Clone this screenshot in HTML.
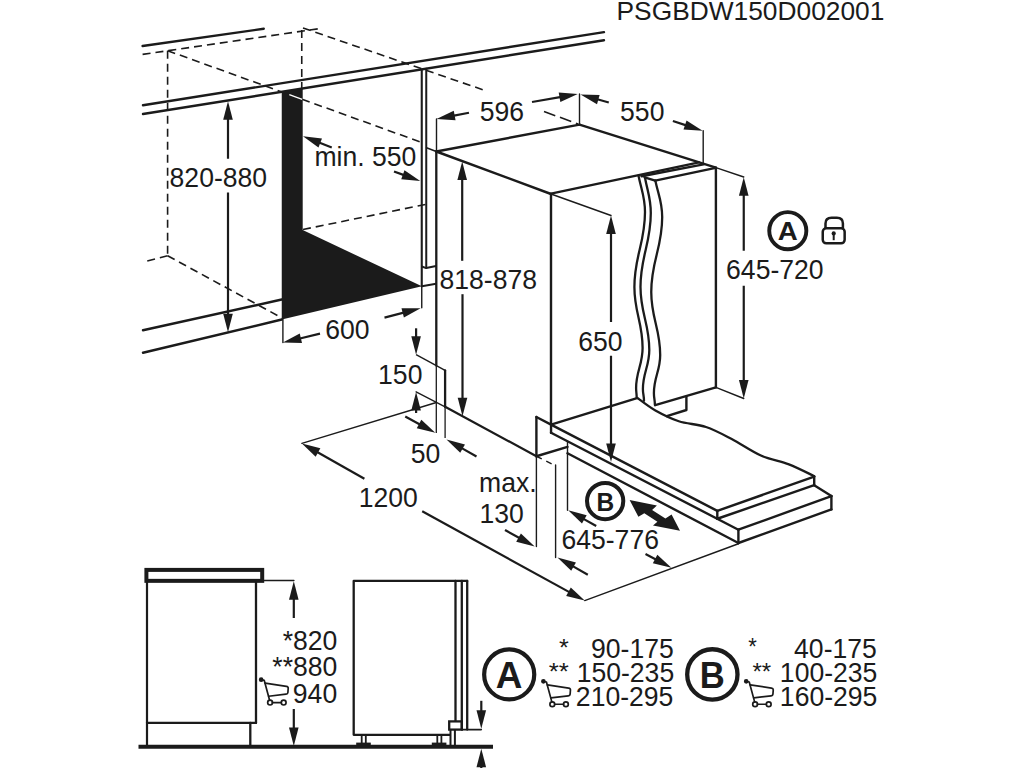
<!DOCTYPE html>
<html><head><meta charset="utf-8"><style>
html,body{margin:0;padding:0;background:#fff;width:1024px;height:768px;overflow:hidden}
svg{display:block}
text{font-family:"Liberation Sans",sans-serif;fill:#1b1b1b;stroke:none}
</style></head><body>
<svg width="1024" height="768" viewBox="0 0 1024 768" stroke="#1b1b1b">
<line x1="142.6" y1="46" x2="263.75" y2="28.75" stroke-width="2.4" stroke-linecap="round"/>
<line x1="142.6" y1="54.4" x2="321.75" y2="28.25" stroke-width="1.6" stroke-linecap="butt" stroke-dasharray="8 5"/>
<line x1="143" y1="105.2" x2="604" y2="32.1" stroke-width="2.4" stroke-linecap="round"/>
<line x1="143" y1="114" x2="604" y2="40.2" stroke-width="2.4" stroke-linecap="round"/>
<line x1="167.6" y1="50.7" x2="167.6" y2="255.75" stroke-width="1.6" stroke-linecap="butt" stroke-dasharray="8 5"/>
<line x1="301.75" y1="30" x2="301.75" y2="89" stroke-width="1.6" stroke-linecap="butt" stroke-dasharray="8 5"/>
<line x1="167.6" y1="50.7" x2="421.5" y2="142.4" stroke-width="1.6" stroke-linecap="butt" stroke-dasharray="8 5"/>
<line x1="303" y1="28" x2="486.5" y2="91" stroke-width="1.6" stroke-linecap="butt" stroke-dasharray="8 5"/>
<line x1="544" y1="111.5" x2="578" y2="124" stroke-width="1.6" stroke-linecap="butt" stroke-dasharray="12 5"/>
<line x1="167.6" y1="255.75" x2="143" y2="262" stroke-width="1.6" stroke-linecap="butt" stroke-dasharray="8 5"/>
<line x1="167.6" y1="255.75" x2="282" y2="318" stroke-width="1.6" stroke-linecap="butt" stroke-dasharray="8 5"/>
<line x1="303" y1="229.5" x2="430" y2="203.5" stroke-width="1.6" stroke-linecap="butt" stroke-dasharray="8 5"/>
<line x1="143" y1="330.25" x2="281.75" y2="299.5" stroke-width="2.4" stroke-linecap="round"/>
<line x1="143" y1="352.75" x2="281.75" y2="319.5" stroke-width="2.4" stroke-linecap="round"/>
<polygon points="281.75,91.80 302.70,88.40 302.70,230.00 421.90,286.35 281.75,319.50" fill="#1b1b1b" stroke="none"/>
<line x1="289.3" y1="94.6" x2="302.2" y2="99.3" stroke="#fff" stroke-width="1.4"/>
<line x1="421.75" y1="69.5" x2="421.75" y2="286.3" stroke-width="2.1" stroke-linecap="round"/>
<line x1="421.75" y1="286.3" x2="421.75" y2="307.7" stroke-width="1.4" stroke-linecap="round"/>
<line x1="426.25" y1="68.8" x2="426.25" y2="268.1" stroke-width="2.0" stroke-linecap="round"/>
<polyline points="421.75,266.5 426.25,268.1 436.1,266" stroke-width="2.0" fill="none" stroke-linejoin="round"/>
<line x1="421.9" y1="286.35" x2="436.1" y2="283.75" stroke-width="2.0" stroke-linecap="round"/>
<line x1="426.5" y1="147.75" x2="436.3" y2="151.5" stroke-width="1.4" stroke-linecap="round"/>
<line x1="228" y1="158.75" x2="228.0" y2="117.7" stroke-width="2.2" stroke-linecap="butt"/>
<polygon points="228.00,101.20 232.80,119.70 223.20,119.70" fill="#1b1b1b" stroke="none"/>
<line x1="228" y1="192.5" x2="228.0" y2="315.8" stroke-width="2.2" stroke-linecap="butt"/>
<polygon points="228.00,332.30 223.20,313.80 232.80,313.80" fill="#1b1b1b" stroke="none"/>
<text transform="translate(169.59,186.69) scale(1,1.035)" font-size="26.60" text-anchor="start" font-weight="normal">820-880</text>
<line x1="331.75" y1="147.5" x2="318.36550586514494" y2="142.26258925157848" stroke-width="2.2" stroke-linecap="butt"/>
<polygon points="303.00,136.25 321.98,138.52 318.48,147.46" fill="#1b1b1b" stroke="none"/>
<line x1="394" y1="171.5" x2="404.7347981226976" y2="175.38497455869054" stroke-width="2.2" stroke-linecap="butt"/>
<polygon points="420.25,181.00 401.22,179.22 404.49,170.19" fill="#1b1b1b" stroke="none"/>
<text transform="translate(314.43,165.92) scale(1,1.035)" font-size="26.60" text-anchor="start" font-weight="normal">min. 550</text>
<line x1="282.9" y1="319.5" x2="282.9" y2="342.6" stroke-width="1.4" stroke-linecap="round"/>
<line x1="320" y1="333.6" x2="298.93492678437906" y2="338.7101255779135" stroke-width="2.2" stroke-linecap="butt"/>
<polygon points="282.90,342.60 299.75,333.57 302.01,342.90" fill="#1b1b1b" stroke="none"/>
<text transform="translate(325.19,338.63) scale(1,1.035)" font-size="26.60" text-anchor="start" font-weight="normal">600</text>
<line x1="384.5" y1="317.6" x2="404.63243777088223" y2="312.35775858597526" stroke-width="2.2" stroke-linecap="butt"/>
<polygon points="420.60,308.20 403.91,317.51 401.49,308.22" fill="#1b1b1b" stroke="none"/>
<line x1="436.3" y1="151.5" x2="579.5" y2="124.6" stroke-width="2.4" stroke-linecap="round"/>
<line x1="436.3" y1="151.5" x2="551" y2="194" stroke-width="2.4" stroke-linecap="round"/>
<line x1="579.5" y1="124.6" x2="715.9" y2="167.6" stroke-width="2.4" stroke-linecap="round"/>
<line x1="551" y1="193.6" x2="699" y2="162.4" stroke-width="2.4" stroke-linecap="round"/>
<line x1="641.5" y1="176.3" x2="703.5" y2="164.4" stroke-width="2.4" stroke-linecap="round"/>
<line x1="655.2" y1="180.6" x2="715.6" y2="167.8" stroke-width="2.4" stroke-linecap="round"/>
<line x1="644.6" y1="177.3" x2="655.2" y2="180.6" stroke-width="2.4" stroke-linecap="round"/>
<line x1="436.3" y1="151.5" x2="436.3" y2="365.5" stroke-width="2.3" stroke-linecap="round"/>
<line x1="436.3" y1="365.5" x2="436.3" y2="433" stroke-width="1.3" stroke-linecap="butt"/>
<line x1="551" y1="194" x2="551" y2="424.6" stroke-width="2.4" stroke-linecap="round"/>
<line x1="715.9" y1="167.6" x2="715.9" y2="387.3" stroke-width="2.4" stroke-linecap="round"/>
<line x1="715.9" y1="387.3" x2="655.2" y2="405.2" stroke-width="2.4" stroke-linecap="round"/>
<path d="M638.5,175.7 C641.42,190.22 645.00,196.75 645,212 C645.00,243.50 634.40,255.50 634.4,287 C634.40,312.62 642.60,322.38 642.6,348 C642.60,364.80 636.10,371.20 636.1,388 C636.10,392.07 636.64,392.85 636.7,397.7" stroke-width="2.3" fill="none" stroke-linecap="round"/>
<path d="M645,177.7 C647.61,191.82 650.80,198.17 650.8,213 C650.80,244.08 640.50,255.92 640.5,287 C640.50,313.46 649.30,323.54 649.3,350 C649.30,366.38 642.90,372.62 642.9,389 C642.90,393.96 643.89,394.90 644,400.8" stroke-width="2.3" fill="none" stroke-linecap="round"/>
<path d="M655.3,180.6 C658.40,195.16 662.20,201.71 662.2,217 C662.20,248.50 651.25,260.50 651.25,292 C651.25,318.46 660.20,328.54 660.2,355 C660.20,370.96 653.90,377.04 653.9,393 C653.90,398.04 654.80,399.00 654.9,405" stroke-width="2.3" fill="none" stroke-linecap="round"/>
<polyline points="686.4,396.3 686.4,410 666.1,416.4" stroke-width="2.4" fill="none" stroke-linejoin="round"/>
<line x1="416.1" y1="328.3" x2="416.1" y2="338.2" stroke-width="2.2" stroke-linecap="butt"/>
<polygon points="416.10,354.70 411.30,336.20 420.90,336.20" fill="#1b1b1b" stroke="none"/>
<polyline points="416.1,354.7 445.1,370.3" stroke-width="1.4" fill="none" stroke-linejoin="round"/>
<line x1="445.1" y1="370.3" x2="445.1" y2="406.8" stroke-width="2.3" stroke-linecap="round"/>
<line x1="445.1" y1="406.8" x2="445.1" y2="438" stroke-width="1.3" stroke-linecap="butt"/>
<text transform="translate(378.08,384.45) scale(1,1.035)" font-size="26.60" text-anchor="start" font-weight="normal">150</text>
<line x1="416.1" y1="413" x2="416.1" y2="408.5" stroke-width="2.2" stroke-linecap="butt"/>
<polygon points="416.10,392.00 420.90,410.50 411.30,410.50" fill="#1b1b1b" stroke="none"/>
<line x1="416.1" y1="391.8" x2="445.1" y2="406.8" stroke-width="1.3" stroke-linecap="round"/>
<line x1="445.1" y1="406.8" x2="536.4" y2="456.25" stroke-width="2.2" stroke-linecap="round"/>
<line x1="301.9" y1="443.4" x2="436.3" y2="402.5" stroke-width="1.4" stroke-linecap="round"/>
<line x1="405.25" y1="416.5" x2="420.79631723281426" y2="424.9327777336064" stroke-width="2.2" stroke-linecap="butt"/>
<polygon points="435.30,432.80 416.75,428.20 421.33,419.76" fill="#1b1b1b" stroke="none"/>
<line x1="476.5" y1="456.5" x2="460.8553660665021" y2="447.63470743768454" stroke-width="2.2" stroke-linecap="butt"/>
<polygon points="446.50,439.50 464.96,444.44 460.23,452.80" fill="#1b1b1b" stroke="none"/>
<text transform="translate(410.77,463.17) scale(1,1.035)" font-size="26.60" text-anchor="start" font-weight="normal">50</text>
<line x1="536.4" y1="417" x2="536.4" y2="456.25" stroke-width="2.4" stroke-linecap="round"/>
<line x1="536.4" y1="417" x2="551.05" y2="424.6" stroke-width="2.4" stroke-linecap="round"/>
<line x1="536.4" y1="456.25" x2="567.5" y2="446.9" stroke-width="2.4" stroke-linecap="round"/>
<line x1="567.5" y1="441.3" x2="567.5" y2="510.3" stroke-width="1.4" stroke-linecap="round"/>
<line x1="536.4" y1="456.25" x2="555.2" y2="465.6" stroke-width="1.4" stroke-linecap="butt" stroke-dasharray="6 5"/>
<line x1="555.6" y1="465" x2="555.6" y2="557.5" stroke-width="1.4" stroke-linecap="round"/>
<line x1="536.4" y1="456.25" x2="536.4" y2="546.6" stroke-width="1.4" stroke-linecap="round"/>
<line x1="462.2" y1="260.8" x2="462.2" y2="178.0" stroke-width="2.2" stroke-linecap="butt"/>
<polygon points="462.20,161.50 467.00,180.00 457.40,180.00" fill="#1b1b1b" stroke="none"/>
<line x1="462.5" y1="294.2" x2="462.5" y2="399.8" stroke-width="2.2" stroke-linecap="butt"/>
<polygon points="462.50,416.30 457.70,397.80 467.30,397.80" fill="#1b1b1b" stroke="none"/>
<text transform="translate(439.49,289.03) scale(1,1.035)" font-size="26.60" text-anchor="start" font-weight="normal">818-878</text>
<line x1="436.5" y1="151.5" x2="436.5" y2="119" stroke-width="1.4" stroke-linecap="round"/>
<line x1="469" y1="112.75" x2="452.70310637518065" y2="115.88401800477294" stroke-width="2.2" stroke-linecap="butt"/>
<polygon points="436.50,119.00 453.76,110.79 455.57,120.22" fill="#1b1b1b" stroke="none"/>
<text transform="translate(479.64,120.89) scale(1,1.035)" font-size="26.60" text-anchor="start" font-weight="normal">596</text>
<line x1="532" y1="102" x2="561.4966204098743" y2="96.84212102122417" stroke-width="2.2" stroke-linecap="butt"/>
<polygon points="577.75,94.00 560.35,101.91 558.70,92.46" fill="#1b1b1b" stroke="none"/>
<line x1="579.5" y1="94" x2="579.5" y2="124.6" stroke-width="1.4" stroke-linecap="round"/>
<line x1="608.8" y1="102.5" x2="596.3924008010181" y2="99.03639456989552" stroke-width="2.2" stroke-linecap="butt"/>
<polygon points="580.50,94.60 599.61,94.95 597.03,104.20" fill="#1b1b1b" stroke="none"/>
<text transform="translate(620.09,120.63) scale(1,1.035)" font-size="26.60" text-anchor="start" font-weight="normal">550</text>
<line x1="672.9" y1="121" x2="686.9309702942955" y2="125.62974777387528" stroke-width="2.2" stroke-linecap="butt"/>
<polygon points="702.60,130.80 683.53,129.56 686.54,120.44" fill="#1b1b1b" stroke="none"/>
<line x1="703.2" y1="130.8" x2="703.2" y2="163" stroke-width="1.4" stroke-linecap="round"/>
<line x1="551" y1="194" x2="611" y2="215.5" stroke-width="1.4" stroke-linecap="round"/>
<line x1="611" y1="322" x2="611.0" y2="232.0" stroke-width="2.2" stroke-linecap="butt"/>
<polygon points="611.00,215.50 615.80,234.00 606.20,234.00" fill="#1b1b1b" stroke="none"/>
<line x1="611" y1="355.75" x2="611.0" y2="445.5" stroke-width="2.2" stroke-linecap="butt"/>
<polygon points="611.00,462.00 606.20,443.50 615.80,443.50" fill="#1b1b1b" stroke="none"/>
<text transform="translate(578.24,350.63) scale(1,1.035)" font-size="26.60" text-anchor="start" font-weight="normal">650</text>
<line x1="715.9" y1="167.6" x2="743.75" y2="177" stroke-width="1.4" stroke-linecap="round"/>
<line x1="715.9" y1="387.3" x2="743.75" y2="398.5" stroke-width="1.4" stroke-linecap="round"/>
<line x1="743.75" y1="250.75" x2="743.75" y2="193.7" stroke-width="2.2" stroke-linecap="butt"/>
<polygon points="743.75,177.20 748.55,195.70 738.95,195.70" fill="#1b1b1b" stroke="none"/>
<line x1="743.75" y1="285.75" x2="743.75" y2="382.0" stroke-width="2.2" stroke-linecap="butt"/>
<polygon points="743.75,398.50 738.95,380.00 748.55,380.00" fill="#1b1b1b" stroke="none"/>
<text transform="translate(726.09,279.03) scale(1,1.035)" font-size="26.60" text-anchor="start" font-weight="normal">645-720</text>
<line x1="551.05" y1="424.6" x2="637" y2="398.1" stroke-width="2.4" stroke-linecap="round"/>
<path d="M637.8,398.3 C640.73,400.33 648.57,406.68 655.4,410.5 C662.23,414.32 670.37,418.50 678.8,421.25 C687.23,424.00 697.18,424.04 706,427 C714.82,429.96 722.55,434.25 731.7,439 C740.85,443.75 751.37,451.27 760.9,455.5 C770.43,459.73 780.00,460.95 788.9,464.4 C797.80,467.85 810.07,474.23 814.3,476.2" stroke-width="2.3" fill="none" stroke-linecap="round"/>
<line x1="551.05" y1="424.6" x2="717.3" y2="510.9" stroke-width="2.4" stroke-linecap="round"/>
<line x1="717.3" y1="510.9" x2="814.2" y2="476.6" stroke-width="2.4" stroke-linecap="round"/>
<line x1="717.3" y1="510.9" x2="717.3" y2="518.75" stroke-width="2.4" stroke-linecap="round"/>
<line x1="814.2" y1="476.6" x2="814.2" y2="485.2" stroke-width="2.4" stroke-linecap="round"/>
<line x1="717.3" y1="518.75" x2="814.2" y2="485.2" stroke-width="2.4" stroke-linecap="round"/>
<line x1="551.05" y1="432.8" x2="738.4" y2="529.7" stroke-width="2.4" stroke-linecap="round"/>
<line x1="551.05" y1="424.6" x2="551.05" y2="432.8" stroke-width="2.4" stroke-linecap="round"/>
<line x1="814.2" y1="485.2" x2="831.4" y2="496.1" stroke-width="2.4" stroke-linecap="round"/>
<line x1="738.4" y1="529.7" x2="831.4" y2="496.1" stroke-width="2.4" stroke-linecap="round"/>
<line x1="738.4" y1="529.7" x2="738.4" y2="543" stroke-width="2.4" stroke-linecap="round"/>
<line x1="831.4" y1="496.1" x2="831.4" y2="509.4" stroke-width="2.4" stroke-linecap="round"/>
<line x1="738.4" y1="543" x2="831.4" y2="509.4" stroke-width="2.4" stroke-linecap="round"/>
<line x1="567.5" y1="453.3" x2="738.4" y2="543" stroke-width="2.4" stroke-linecap="round"/>
<line x1="738.4" y1="543.75" x2="584.7" y2="600.6" stroke-width="1.4" stroke-linecap="round"/>
<line x1="364.4" y1="478.75" x2="316.2619323597343" y2="451.5231089426657" stroke-width="2.2" stroke-linecap="butt"/>
<polygon points="301.90,443.40 320.37,448.33 315.64,456.69" fill="#1b1b1b" stroke="none"/>
<line x1="422.2" y1="511.25" x2="570.2414983280994" y2="592.6500484653274" stroke-width="2.2" stroke-linecap="butt"/>
<polygon points="584.70,600.60 566.18,595.89 570.80,587.48" fill="#1b1b1b" stroke="none"/>
<text transform="translate(358.72,506.70) scale(1,1.035)" font-size="26.60" text-anchor="start" font-weight="normal">1200</text>
<text transform="translate(479.11,492.18) scale(1,1.035)" font-size="26.60" text-anchor="start" font-weight="normal">max.</text>
<text transform="translate(479.54,523.43) scale(1,1.035)" font-size="26.60" text-anchor="start" font-weight="normal">130</text>
<line x1="505" y1="530" x2="520.2970399697145" y2="538.5498607238136" stroke-width="2.2" stroke-linecap="butt"/>
<polygon points="534.70,546.60 516.21,541.76 520.89,533.38" fill="#1b1b1b" stroke="none"/>
<line x1="587.8" y1="574.7" x2="571.8492681191675" y2="565.6454591303525" stroke-width="2.2" stroke-linecap="butt"/>
<polygon points="557.50,557.50 575.96,562.46 571.22,570.81" fill="#1b1b1b" stroke="none"/>
<line x1="596.2" y1="526" x2="582.5919646864703" y2="518.3697801991995" stroke-width="2.2" stroke-linecap="butt"/>
<polygon points="568.20,510.30 586.68,515.16 581.99,523.53" fill="#1b1b1b" stroke="none"/>
<text transform="translate(561.40,549.01) scale(1,1.035)" font-size="26.60" text-anchor="start" font-weight="normal">645-776</text>
<line x1="645.5" y1="554" x2="656.838064910326" y2="560.0411311105212" stroke-width="2.2" stroke-linecap="butt"/>
<polygon points="671.40,567.80 652.82,563.34 657.33,554.86" fill="#1b1b1b" stroke="none"/>
<circle cx="605.15" cy="501.1" r="18.15" stroke-width="4" fill="none"/>
<text transform="translate(605.40,510.81) scale(1,1.024)" font-size="24.50" text-anchor="middle" font-weight="bold">B</text>
<polygon points="629.60,500.10 638.40,516.70 644.30,513.30 657.40,521.70 653.00,525.50 680.00,530.70 671.60,514.40 665.40,518.40 652.10,509.90 656.90,505.60" fill="#1b1b1b" stroke="none"/>
<circle cx="787.8" cy="230.65" r="18.55" stroke-width="3.9" fill="none"/>
<text transform="translate(787.81,240.18) scale(1,0.950)" font-size="27.70" text-anchor="middle" font-weight="bold">A</text>
<rect x="822.75" y="228.25" width="21.9" height="15.05" rx="3.5" stroke-width="2.5" fill="none"/>
<path d="M825.5,228.25 V223.5 Q825.5,217.75 831.5,217.75 H836.9 Q842.9,217.75 842.9,223.5 V228.25" stroke-width="2.5" fill="none"/>
<circle cx="833.7" cy="233.4" r="2.1" stroke="none" fill="#1b1b1b"/>
<line x1="833.7" y1="233.5" x2="833.7" y2="240.2" stroke-width="2.0" stroke-linecap="butt"/>
<text transform="translate(616.56,20.21) scale(1,1.000)" font-size="26.34" text-anchor="start" font-weight="normal">PSGBDW150D002001</text>
<rect x="146.4" y="569.9" width="115.8" height="10.95" stroke-width="4" fill="none"/>
<line x1="147" y1="582.6" x2="147" y2="746" stroke-width="2.2" stroke-linecap="round"/>
<line x1="256" y1="582.6" x2="256" y2="722.9" stroke-width="2.3" stroke-linecap="round"/>
<line x1="147" y1="722.9" x2="256" y2="722.9" stroke-width="2.3" stroke-linecap="round"/>
<line x1="250.3" y1="722.9" x2="250.3" y2="746" stroke-width="2.3" stroke-linecap="round"/>
<line x1="138.5" y1="746.85" x2="493" y2="746.85" stroke-width="4" stroke-linecap="butt"/>
<line x1="264" y1="580.5" x2="293.9" y2="580.5" stroke-width="1.4" stroke-linecap="round"/>
<line x1="293.8" y1="618" x2="293.8" y2="597.7" stroke-width="2.2" stroke-linecap="butt"/>
<polygon points="293.80,581.20 298.60,599.70 289.00,599.70" fill="#1b1b1b" stroke="none"/>
<line x1="293.8" y1="709" x2="293.8" y2="729.4" stroke-width="2.2" stroke-linecap="butt"/>
<polygon points="293.80,745.90 289.00,727.40 298.60,727.40" fill="#1b1b1b" stroke="none"/>
<text transform="translate(337.32,649.55) scale(1,1.035)" font-size="26.60" text-anchor="end" font-weight="normal">*820</text>
<text transform="translate(337.33,675.72) scale(1,1.035)" font-size="26.60" text-anchor="end" font-weight="normal">**880</text>
<text transform="translate(337.19,702.72) scale(1,1.035)" font-size="26.60" text-anchor="end" font-weight="normal">940</text>
<g transform="translate(256,674) scale(1.0)" fill="none" stroke-width="1.7" stroke-linecap="round" stroke-linejoin="round"><path d="M5.16,5.63 L8.2,6.3 L13.6,26.2"/><path d="M9.14,9.14 L30.4,12.4 Q32.3,12.7 32.2,14.3 L31.9,18.5 Q31.8,20 30,20.2 L12.66,22.27"/><path d="M16.4,28.6 L25.3,28.6"/><circle cx="14.06" cy="28.6" r="2.4"/><circle cx="27.66" cy="28.6" r="2.4"/><circle cx="5.16" cy="5.63" r="1.5" fill="#1b1b1b"/></g>
<polyline points="455.5,721.4 455.5,580.9 353.7,580.9 353.7,734.8 450.3,734.8" stroke-width="2.3" fill="none" stroke-linejoin="round"/>
<line x1="455.5" y1="580.9" x2="467.2" y2="580.9" stroke-width="2.3" stroke-linecap="round"/>
<line x1="461.8" y1="580.9" x2="461.8" y2="729.6" stroke-width="2.3" stroke-linecap="round"/>
<line x1="467.2" y1="580.9" x2="467.2" y2="729.6" stroke-width="2.3" stroke-linecap="round"/>
<rect x="449.2" y="721.4" width="12.6" height="8.2" stroke-width="2.3" fill="none"/>
<line x1="450.5" y1="729.6" x2="450.5" y2="745.5" stroke-width="2" stroke-linecap="butt"/>
<line x1="454.9" y1="729.6" x2="454.9" y2="745.5" stroke-width="2" stroke-linecap="butt"/>
<line x1="361.7" y1="734.8" x2="361.7" y2="744" stroke-width="1.8" stroke-linecap="butt"/>
<line x1="365.8" y1="734.8" x2="365.8" y2="744" stroke-width="1.8" stroke-linecap="butt"/>
<rect x="356.2" y="742.6" width="14.6" height="3" fill="#1b1b1b" stroke="none"/>
<line x1="437.3" y1="734.8" x2="437.3" y2="744" stroke-width="1.8" stroke-linecap="butt"/>
<line x1="441.40000000000003" y1="734.8" x2="441.40000000000003" y2="744" stroke-width="1.8" stroke-linecap="butt"/>
<rect x="431.8" y="742.6" width="14.6" height="3" fill="#1b1b1b" stroke="none"/>
<line x1="461.8" y1="729.6" x2="481.3" y2="729.6" stroke-width="1.6" stroke-linecap="round"/>
<line x1="481.3" y1="700.8" x2="481.3" y2="712.2" stroke-width="2.2" stroke-linecap="butt"/>
<polygon points="481.30,728.70 476.50,710.20 486.10,710.20" fill="#1b1b1b" stroke="none"/>
<line x1="481.3" y1="768" x2="481.3" y2="765.2" stroke-width="2.2" stroke-linecap="butt"/>
<polygon points="481.30,748.70 486.10,767.20 476.50,767.20" fill="#1b1b1b" stroke="none"/>
<circle cx="509.2" cy="674.4" r="25.05" stroke-width="4.2" fill="none"/>
<text transform="translate(509.11,687.61) scale(1,0.992)" font-size="36.90" text-anchor="middle" font-weight="bold">A</text>
<text transform="translate(568.89,656.26) scale(1,0.967)" font-size="25.11" text-anchor="end" font-weight="normal">*</text>
<text transform="translate(568.79,680.29) scale(1,0.902)" font-size="25.74" text-anchor="end" font-weight="normal">**</text>
<g transform="translate(538.24,675.67) scale(1.0)" fill="none" stroke-width="1.7" stroke-linecap="round" stroke-linejoin="round"><path d="M5.16,5.63 L8.2,6.3 L13.6,26.2"/><path d="M9.14,9.14 L30.4,12.4 Q32.3,12.7 32.2,14.3 L31.9,18.5 Q31.8,20 30,20.2 L12.66,22.27"/><path d="M16.4,28.6 L25.3,28.6"/><circle cx="14.06" cy="28.6" r="2.4"/><circle cx="27.66" cy="28.6" r="2.4"/><circle cx="5.16" cy="5.63" r="1.5" fill="#1b1b1b"/></g>
<text transform="translate(673.73,657.61) scale(1,1.035)" font-size="26.60" text-anchor="end" font-weight="normal">90-175</text>
<text transform="translate(674.18,681.95) scale(1,1.035)" font-size="26.60" text-anchor="end" font-weight="normal">150-235</text>
<text transform="translate(673.39,706.03) scale(1,1.035)" font-size="26.60" text-anchor="end" font-weight="normal">210-295</text>
<circle cx="712.35" cy="674.4" r="25.15" stroke-width="4.3" fill="none"/>
<text transform="translate(712.26,687.61) scale(1,1.056)" font-size="34.65" text-anchor="middle" font-weight="bold">B</text>
<text transform="translate(756.75,655.32) scale(1,1.057)" font-size="21.97" text-anchor="end" font-weight="normal">*</text>
<text transform="translate(771.18,680.29) scale(1,0.964)" font-size="24.09" text-anchor="end" font-weight="normal">**</text>
<g transform="translate(741.04,675.67) scale(1.0)" fill="none" stroke-width="1.7" stroke-linecap="round" stroke-linejoin="round"><path d="M5.16,5.63 L8.2,6.3 L13.6,26.2"/><path d="M9.14,9.14 L30.4,12.4 Q32.3,12.7 32.2,14.3 L31.9,18.5 Q31.8,20 30,20.2 L12.66,22.27"/><path d="M16.4,28.6 L25.3,28.6"/><circle cx="14.06" cy="28.6" r="2.4"/><circle cx="27.66" cy="28.6" r="2.4"/><circle cx="5.16" cy="5.63" r="1.5" fill="#1b1b1b"/></g>
<text transform="translate(876.85,657.61) scale(1,1.035)" font-size="26.60" text-anchor="end" font-weight="normal">40-175</text>
<text transform="translate(877.40,681.95) scale(1,1.035)" font-size="26.60" text-anchor="end" font-weight="normal">100-235</text>
<text transform="translate(877.40,706.03) scale(1,1.035)" font-size="26.60" text-anchor="end" font-weight="normal">160-295</text>
</svg></body></html>
